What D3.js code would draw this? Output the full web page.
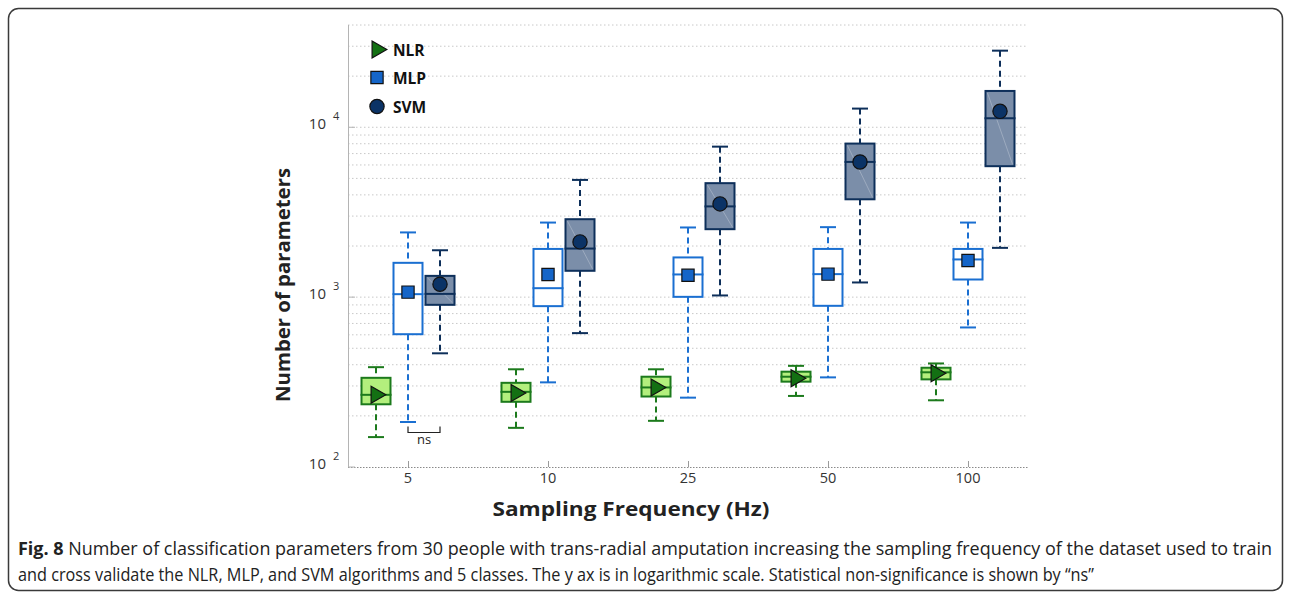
<!DOCTYPE html>
<html>
<head>
<meta charset="utf-8">
<script src="https://cdn.jsdelivr.net/npm/d3@7"></script>
<style>
  html, body { margin: 0; padding: 0; background: #fff; }
  svg { display: block; }
</style>
</head>
<body>
<svg id="chart" width="1291" height="595"></svg>
<script>
// Sampling frequencies (Hz) on the x axis
const frequencies = ["5", "10", "25", "50", "100"];
const models = ["NLR", "MLP", "SVM"];

// NLR: whisker ends, quartiles, median and mean per frequency
const nlrMin    = [150, 170, 187, 262, 247];
const nlrQ1     = [234, 242, 260, 318, 328];
const nlrMedian = [266, 277, 294, 340, 361];
const nlrQ3     = [335, 313, 340, 364, 384];
const nlrMax    = [387, 376, 376, 394, 407];
const nlrMean   = [266, 273, 294, 333, 356];

// MLP
const mlpMin    = [184, 315, 256, 337, 663];
const mlpQ1     = [605, 885, 1004, 889, 1270];
const mlpMedian = [1041, 1129, 1360, 1366, 1667];
const mlpQ3     = [1592, 1922, 1713, 1922, 1922];
const mlpMax    = [2404, 2748, 2571, 2582, 2748];
const mlpMean   = [1070, 1360, 1344, 1366, 1644];

// SVM
const svmMin    = [467, 614, 1023, 1220, 1950];
const svmQ1     = [901, 1429, 2512, 3767, 5900];
const svmMedian = [1045, 1932, 3421, 6252, 11300];
const svmQ3     = [1334, 2876, 4688, 8017, 16360];
const svmMax    = [1888, 4898, 7690, 12882, 28250];
const svmMean   = [1191, 2115, 3539, 6252, 12410];

// Decade tick exponents for the log axis
const yTickExponents = [2, 3, 4];

const series = [
  { name: "NLR", min: nlrMin, q1: nlrQ1, median: nlrMedian, q3: nlrQ3, max: nlrMax, mean: nlrMean,
    fill: "#b3ef7d", stroke: "#1c7a1c", marker: "#137013", symbol: "triangle" },
  { name: "MLP", min: mlpMin, q1: mlpQ1, median: mlpMedian, q3: mlpQ3, max: mlpMax, mean: mlpMean,
    fill: "#ffffff", stroke: "#1a6fd1", marker: "#1565c8", symbol: "square" },
  { name: "SVM", min: svmMin, q1: svmQ1, median: svmMedian, q3: svmQ3, max: svmMax, mean: svmMean,
    fill: "#7b8ea9", stroke: "#0d2f5a", marker: "#0b3366", symbol: "circle" }
];

const svg = d3.select("#chart");
const plot = { left: 348, right: 1028, top: 25, bottom: 467 };

// Rounded frame around the figure and its caption
svg.append("rect")
  .attr("x", 8.5).attr("y", 8.5)
  .attr("width", 1274).attr("height", 582)
  .attr("rx", 10).attr("ry", 10)
  .attr("fill", "none").attr("stroke", "#3a3a3a").attr("stroke-width", 1.5);

const x = d3.scalePoint().domain(frequencies)
  .range([plot.left, plot.right]).padding(0.4286);
const xInner = d3.scaleBand().domain(models).range([-48, 48]);
const y = d3.scaleLog().domain([100, 40000]).range([plot.bottom, plot.top]);

// Dotted grid at every 1..9 x 10^k inside the domain
const gridValues = [];
for (const e of [2, 3, 4]) {
  for (let m = 1; m <= 9; m++) {
    const v = m * Math.pow(10, e);
    if (v > 100 && v <= 40000) gridValues.push(v);
  }
}
svg.append("g").selectAll("line").data(gridValues).join("line")
  .attr("x1", plot.left).attr("x2", plot.right)
  .attr("y1", d => y(d)).attr("y2", d => y(d))
  .attr("stroke", "#c8c8c8").attr("stroke-width", 1)
  .attr("stroke-dasharray", "1.5,2.5");

// Left spine and bottom axis
svg.append("line")
  .attr("x1", plot.left + 0.5).attr("x2", plot.left + 0.5)
  .attr("y1", plot.top).attr("y2", plot.bottom)
  .attr("stroke", "#b4b4b4").attr("stroke-width", 1);
svg.append("line")
  .attr("x1", plot.left).attr("x2", plot.right)
  .attr("y1", plot.bottom + 0.5).attr("y2", plot.bottom + 0.5)
  .attr("stroke", "#8a8a8a").attr("stroke-width", 1)
  .attr("stroke-dasharray", "1.5,1.5");

// y ticks: 10 with superscript exponent
const yt = svg.append("g").selectAll("g").data(yTickExponents).join("g")
  .attr("transform", d => `translate(0,${y(Math.pow(10, d))})`);
yt.append("line")
  .attr("x1", plot.left).attr("x2", plot.left + 7)
  .attr("stroke", "#b4b4b4");
yt.append("text")
  .attr("x", 326).attr("y", 2)
  .attr("text-anchor", "end")
  .attr("font-family", "'Open Sans', sans-serif").attr("font-size", 15)
  .attr("fill", "#333").text("10");
yt.append("text")
  .attr("x", 333).attr("y", -7)
  .attr("font-family", "'Open Sans', sans-serif").attr("font-size", 11)
  .attr("fill", "#333").text(d => d);

// x ticks
const xt = svg.append("g").selectAll("g").data(frequencies).join("g")
  .attr("transform", d => `translate(${x(d)},0)`);
xt.append("line")
  .attr("x1", 0.5).attr("x2", 0.5)
  .attr("y1", plot.bottom - 6).attr("y2", plot.bottom)
  .attr("stroke", "#9a9a9a");
xt.append("text")
  .attr("y", 483).attr("text-anchor", "middle")
  .attr("font-family", "'Open Sans', sans-serif").attr("font-size", 14.5)
  .attr("fill", "#333").text(d => d);

// Axis titles
svg.append("text")
  .attr("x", 631).attr("y", 516).attr("text-anchor", "middle")
  .attr("font-family", "'Open Sans', sans-serif").attr("font-weight", 700)
  .attr("font-size", 19).attr("fill", "#222")
  .attr("textLength", 277).attr("lengthAdjust", "spacingAndGlyphs")
  .text("Sampling Frequency (Hz)");
svg.append("text")
  .attr("transform", "translate(290,285) rotate(-90)")
  .attr("text-anchor", "middle")
  .attr("font-family", "'Open Sans', sans-serif").attr("font-weight", 700)
  .attr("font-size", 19).attr("fill", "#222")
  .attr("textLength", 234).attr("lengthAdjust", "spacingAndGlyphs")
  .text("Number of parameters");

const boxW = 29, capW = 16;
const symbolPath = {
  triangle: d3.symbol(d3.symbolTriangle, 125)(),
  square: d3.symbol(d3.symbolSquare, 150)(),
  circle: d3.symbol(d3.symbolCircle, 160)()
};
function drawMarker(sel, s) {
  return sel.append("path")
    .attr("d", symbolPath[s.symbol])
    .attr("fill", s.marker).attr("stroke", "#111").attr("stroke-width", 1.2);
}

// Box plots per model and frequency
series.forEach(s => {
  const g = svg.append("g");
  frequencies.forEach((f, i) => {
    const cx = x(f) + xInner(s.name) + xInner.bandwidth() / 2;
    const bx = g.append("g");
    // whisker stems (dashed) and caps
    bx.append("line")
      .attr("x1", cx).attr("x2", cx)
      .attr("y1", y(s.max[i])).attr("y2", y(s.q3[i]))
      .attr("stroke", s.stroke).attr("stroke-width", 2).attr("stroke-dasharray", "6,4");
    bx.append("line")
      .attr("x1", cx).attr("x2", cx)
      .attr("y1", y(s.q1[i])).attr("y2", y(s.min[i]))
      .attr("stroke", s.stroke).attr("stroke-width", 2).attr("stroke-dasharray", "6,4");
    [s.max[i], s.min[i]].forEach(v => {
      bx.append("line")
        .attr("x1", cx - capW / 2).attr("x2", cx + capW / 2)
        .attr("y1", y(v)).attr("y2", y(v))
        .attr("stroke", s.stroke).attr("stroke-width", 2);
    });
    // interquartile box
    bx.append("rect")
      .attr("x", cx - boxW / 2).attr("y", y(s.q3[i]))
      .attr("width", boxW).attr("height", y(s.q1[i]) - y(s.q3[i]))
      .attr("fill", s.fill).attr("stroke", s.stroke).attr("stroke-width", 2);
    if (s.name === "SVM") {
      bx.append("line")
        .attr("x1", cx - boxW / 2 + 2).attr("x2", cx + boxW / 2 - 2)
        .attr("y1", y(s.q3[i]) + 2).attr("y2", y(s.q1[i]) - 2)
        .attr("stroke", "#ffffff").attr("stroke-opacity", 0.25).attr("stroke-width", 1);
    }
    // median
    bx.append("line")
      .attr("x1", cx - boxW / 2 - 1).attr("x2", cx + boxW / 2 + 1)
      .attr("y1", y(s.median[i])).attr("y2", y(s.median[i]))
      .attr("stroke", s.stroke).attr("stroke-width", 2);
    // mean marker
    drawMarker(bx, s)
      .attr("transform", `translate(${cx},${y(s.mean[i])})` + (s.symbol === "triangle" ? " rotate(90)" : ""));
  });
});

// "ns" bracket between MLP and SVM at 5 Hz
const nsX1 = x("5") + xInner("MLP") + xInner.bandwidth() / 2;
const nsX2 = x("5") + xInner("SVM") + xInner.bandwidth() / 2;
svg.append("path")
  .attr("d", `M${nsX1},426.5V432.5H${nsX2}V426.5`)
  .attr("fill", "none").attr("stroke", "#222").attr("stroke-width", 1.2);
svg.append("text")
  .attr("x", (nsX1 + nsX2) / 2).attr("y", 444).attr("text-anchor", "middle")
  .attr("font-family", "'Open Sans', sans-serif").attr("font-size", 13)
  .attr("fill", "#222").text("ns");

// Legend
const legendY = [49.5, 77.5, 106.5];
const lg = svg.append("g").selectAll("g").data(series).join("g")
  .attr("transform", (d, i) => `translate(377,${legendY[i]})`);
lg.each(function (s) {
  const m = drawMarker(d3.select(this), s);
  if (s.symbol === "triangle") m.attr("transform", "rotate(90)");
});
lg.append("text")
  .attr("x", 16).attr("y", 6)
  .attr("font-family", "'Open Sans', sans-serif").attr("font-weight", 700)
  .attr("font-size", 15.5).attr("fill", "#111")
  .text(d => d.name);

// Caption (narrow type set to the column width)
const capFont = "'Open Sans', sans-serif";
const cap1 = svg.append("text")
  .attr("x", 18).attr("y", 555)
  .attr("font-family", capFont).attr("font-size", 18).attr("fill", "#222")
  .attr("textLength", 1254).attr("lengthAdjust", "spacingAndGlyphs");
cap1.append("tspan").attr("font-weight", 700).text("Fig. 8");
cap1.append("tspan").text(" Number of classification parameters from 30 people with trans-radial amputation increasing the sampling frequency of the dataset used to train");
svg.append("text")
  .attr("x", 18).attr("y", 581)
  .attr("font-family", capFont).attr("font-size", 18).attr("fill", "#222")
  .attr("textLength", 1076).attr("lengthAdjust", "spacingAndGlyphs")
  .text("and cross validate the NLR, MLP, and SVM algorithms and 5 classes. The y ax is in logarithmic scale. Statistical non-significance is shown by \u201cns\u201d");
</script>
</body>
</html>
